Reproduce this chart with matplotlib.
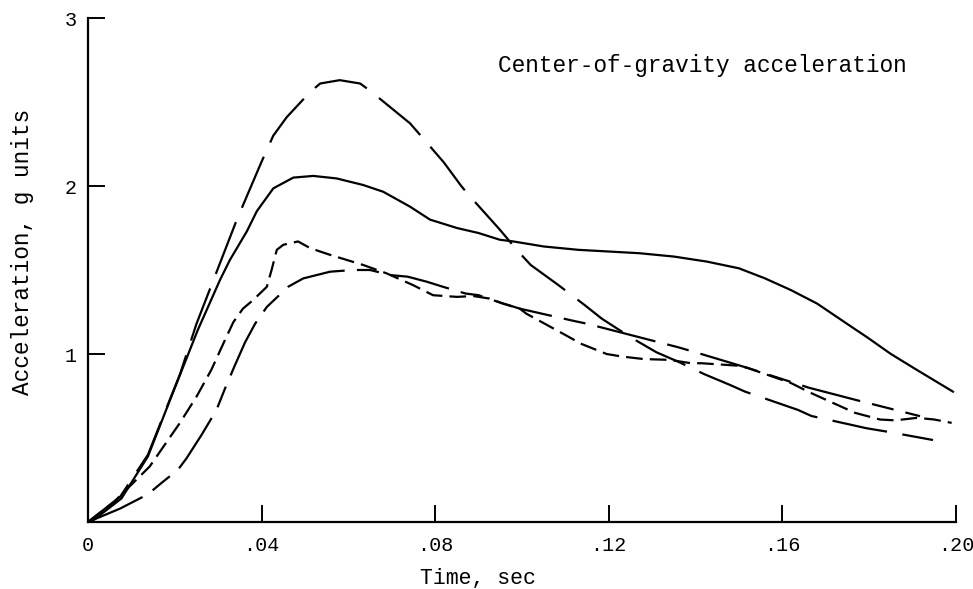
import matplotlib
matplotlib.use('Agg')
import matplotlib.pyplot as plt

# curve values (time in sec, acceleration in g units)
t_solid = [0, 0.0012, 0.0077, 0.0138, 0.0192, 0.0253, 0.0304, 0.0327, 0.0366, 0.0389,
           0.0427, 0.0473, 0.0519, 0.0573, 0.0634, 0.068, 0.0742, 0.0788, 0.085, 0.090,
           0.0949, 0.098, 0.105, 0.113, 0.120, 0.127, 0.135, 0.1426, 0.150, 0.156,
           0.162, 0.168, 0.177, 0.1795, 0.185, 0.191, 0.1993]
a_solid = [0, 0.01, 0.14, 0.39, 0.746, 1.143, 1.44, 1.56, 1.73, 1.85,
           1.986, 2.05, 2.06, 2.045, 2.006, 1.966, 1.877, 1.80, 1.75, 1.72,
           1.68, 1.67, 1.64, 1.62, 1.61, 1.60, 1.58, 1.55, 1.51, 1.45,
           1.38, 1.30, 1.143, 1.10, 1.0, 0.905, 0.776]

t_long = [0, 0.0074, 0.0138, 0.0212, 0.025, 0.0274, 0.0316, 0.0343, 0.040, 0.0427,
          0.0458, 0.0512, 0.0535, 0.058, 0.0627, 0.065, 0.0696, 0.0742, 0.077, 0.082,
          0.086, 0.0876, 0.0949, 0.0988, 0.102, 0.1084, 0.1145, 0.1184, 0.125, 0.131,
          0.136, 0.142, 0.148, 0.1514, 0.1636, 0.1667, 0.1794, 0.1843, 0.1947]
a_long = [0, 0.15, 0.40, 0.88, 1.18, 1.34, 1.62, 1.80, 2.145, 2.30,
          2.41, 2.56, 2.61, 2.63, 2.61, 2.567, 2.47, 2.373, 2.29, 2.14,
          2.0, 1.95, 1.74, 1.62, 1.53, 1.41, 1.29, 1.21, 1.10, 1.01,
          0.954, 0.88, 0.815, 0.776, 0.667, 0.631, 0.558, 0.537, 0.488]

t_short = [0, 0.006, 0.0142, 0.0211, 0.025, 0.0284, 0.0315, 0.0335, 0.0357, 0.038,
           0.0392, 0.0412, 0.0423, 0.0435, 0.045, 0.0484, 0.0512, 0.0558, 0.0634, 0.0688,
           0.0749, 0.0795, 0.085, 0.0888, 0.0925, 0.0956, 0.0995, 0.101, 0.1088, 0.1137,
           0.1195, 0.123, 0.128, 0.134, 0.139, 0.1414, 0.150, 0.152, 0.162, 0.1664,
           0.1767, 0.1825, 0.186, 0.191, 0.195, 0.199]
a_short = [0, 0.12, 0.33, 0.587, 0.746, 0.905, 1.08, 1.19, 1.27, 1.32,
           1.35, 1.40, 1.50, 1.62, 1.65, 1.67, 1.63, 1.59, 1.53, 1.48,
           1.41, 1.35, 1.34, 1.345, 1.33, 1.30, 1.27, 1.24, 1.13, 1.06,
           1.0, 0.985, 0.97, 0.965, 0.945, 0.945, 0.93, 0.917, 0.827, 0.77,
           0.65, 0.61, 0.605, 0.62, 0.61, 0.59]

t_med = [0, 0.0074, 0.0138, 0.017, 0.0207, 0.0227, 0.0262, 0.0296, 0.0315, 0.0338,
         0.0362, 0.0385, 0.0412, 0.0461, 0.0496, 0.0558, 0.0611, 0.065, 0.0696, 0.0737,
         0.0781, 0.0818, 0.087, 0.090, 0.0945, 0.0995, 0.1114, 0.115, 0.1195, 0.124,
         0.136, 0.140, 0.152, 0.166, 0.177, 0.1917]
a_med = [0, 0.08, 0.165, 0.234, 0.31, 0.379, 0.52, 0.667, 0.79, 0.93,
         1.07, 1.18, 1.28, 1.40, 1.45, 1.49, 1.50, 1.50, 1.47, 1.46,
         1.43, 1.40, 1.36, 1.35, 1.31, 1.27, 1.20, 1.18, 1.15, 1.12,
         1.04, 1.01, 0.917, 0.80, 0.726, 0.63]

x_ticks = [0, 0.04, 0.08, 0.12, 0.16, 0.20]
x_labels = ['0', '.04', '.08', '.12', '.16', '.20']
y_ticks = [1, 2, 3]
y_labels = ['1', '2', '3']

plt.rcParams['font.family'] = ['Liberation Mono', 'DejaVu Sans Mono']

fig = plt.figure(figsize=(9.73, 5.89), dpi=100)
ax = fig.add_axes([88 / 973, 67 / 589, 868 / 973, 504 / 589])

lw = 1.6
ax.plot(t_solid, a_solid, color='black', lw=lw)
ax.plot(t_long, a_long, color='black', lw=lw, dashes=(25, 7))
ax.plot(t_short, a_short, color='black', lw=lw, dashes=(7.5, 3.2))
ax.plot(t_med, a_med, color='black', lw=lw, dashes=(27, 5.5, 10, 5.5))

ax.set_xlim(0, 0.20)
ax.set_ylim(0, 3)
ax.spines['top'].set_visible(False)
ax.spines['right'].set_visible(False)
ax.spines['left'].set_linewidth(1.6)
ax.spines['bottom'].set_linewidth(1.6)

ax.set_xticks(x_ticks)
ax.set_xticklabels(x_labels)
ax.set_yticks(y_ticks)
ax.set_yticklabels(y_labels)
ax.tick_params(direction='in', length=12, width=1.4, labelsize=14.5)
ax.tick_params(axis='x', pad=10)
ax.tick_params(axis='y', pad=8)

ax.set_xlabel('Time, sec', fontsize=15.5)
ax.xaxis.set_label_coords(0.449, -0.091)
ax.set_ylabel('Acceleration, g units', fontsize=16.4)
ax.yaxis.set_label_coords(-0.062, 0.536)

ax.text(0.0945, 2.72, 'Center-of-gravity acceleration', fontsize=16.4,
        ha='left', va='center')

fig.savefig('out.png', dpi=100)
